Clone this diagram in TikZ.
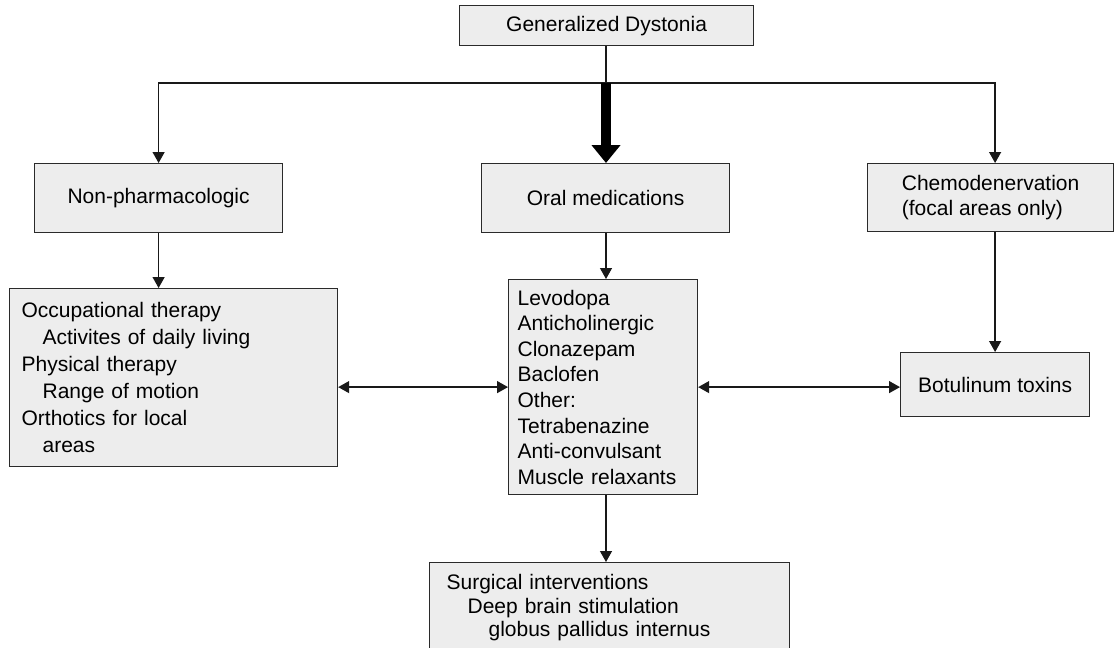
\documentclass[tikz,border=0pt]{standalone}
\usepackage{fontspec}
\setmainfont{Liberation Sans}
\usetikzlibrary{arrows.meta}
\definecolor{boxgray}{HTML}{EDEDED}
\definecolor{edge}{HTML}{2A2A2A}
\begin{document}
\begin{tikzpicture}[x=1pt,y=-1pt,
  box/.style={draw=edge, line width=1.2pt, fill=boxgray, inner sep=0pt,
    anchor=north west, font=\fontsize{21}{25}\selectfont},
  conn/.style={line width=1.3pt, draw=black!90},
  tip/.style={-{Triangle[length=11pt,width=12pt]}},
  arr/.style={conn, tip},
  dbl/.style={conn, {Triangle[length=11pt,width=12pt]}-{Triangle[length=11pt,width=12pt]}},
  heavy/.style={line width=10pt, draw=black, -{Triangle[length=18pt,width=28pt]}}]
\useasboundingbox (0,0) rectangle (1114,648);
\fill[white] (0,0) rectangle (1114,648);
\clip (0,0) rectangle (1114,648);

% boxes
\node[box, minimum width=294pt, minimum height=40pt] (gd) at (459,5) {Generalized Dystonia};
\node[box, minimum width=248pt, minimum height=69pt] (np) at (34,163) {Non-pharmacologic};
\node[box, minimum width=248pt, minimum height=69pt] (oral) at (481,163) {Oral medications};
\node[box, minimum width=246pt, minimum height=68pt, align=left] (chemo) at (867,163)
  {Chemodenervation\\(focal areas only)};
\node[box, minimum width=328pt, minimum height=178pt, text width=304pt, inner xsep=12pt,
  align=left, font=\fontsize{21}{27}\selectfont] (ther) at (9,288)
  {Occupational therapy\\
   \hspace*{21pt}Activites of daily living\\
   Physical therapy\\
   \hspace*{21pt}Range of motion\\
   Orthotics for local\\
   \hspace*{21pt}areas};
\node[box, minimum width=189pt, minimum height=215pt, text width=171pt, inner xsep=9pt,
  align=left, font=\fontsize{21}{25.6}\selectfont] (meds) at (508,279)
  {Levodopa\\Anticholinergic\\Clonazepam\\Baclofen\\Other:\\Tetrabenazine\\Anti-convulsant\\Muscle relaxants};
\node[box, minimum width=189pt, minimum height=64pt] (botox) at (900,352) {Botulinum toxins};
\node[box, minimum width=360pt, text width=326pt, inner xsep=17pt, inner ysep=12pt,
  align=left, font=\fontsize{21}{23.5}\selectfont] (surg) at (429,562)
  {Surgical interventions\\
   \hspace*{21pt}Deep brain stimulation\\
   \hspace*{42pt}globus pallidus internus\\[14pt]};

% branching from the top box
\coordinate (hub) at (606,83);
\draw[conn] (gd.south -| hub) -- (hub);
\draw[arr] (hub) -| (np.north);
\draw[arr] (hub) -| (chemo.north -| botox.north);
\draw[heavy] (hub) -- (hub |- oral.north);

% downward links
\draw[arr] (np.south) -- (np.south |- ther.north);
\draw[arr] (oral.south -| hub) -- (hub |- meds.north);
\draw[arr] (botox.north |- chemo.south) -- (botox.north);
\draw[arr] (hub |- meds.south) -- (hub |- surg.north);

% two-way links
\draw[dbl] (ther.east |- meds.west) -- (meds.west);
\draw[dbl] (meds.east) -- (botox.west |- meds.east);
\end{tikzpicture}
\end{document}
